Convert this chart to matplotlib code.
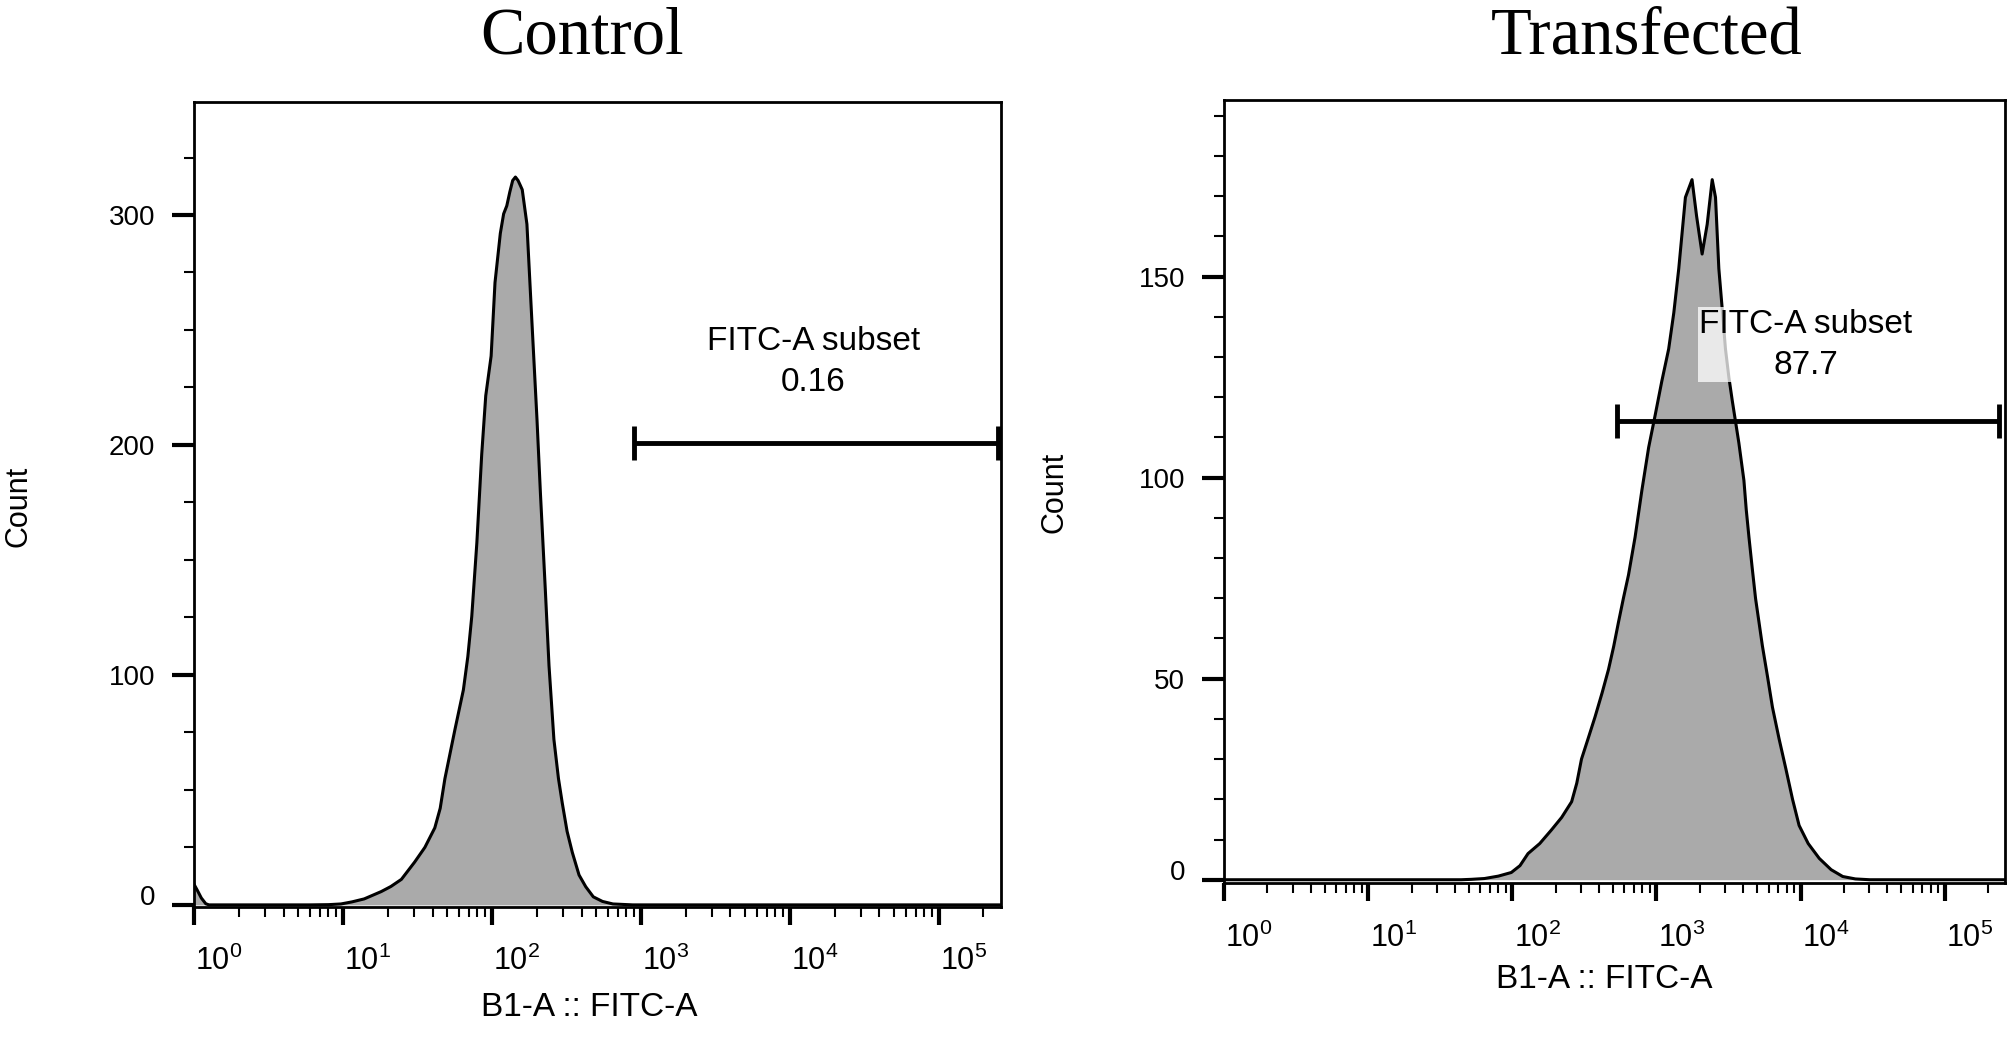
import numpy as np
import matplotlib
matplotlib.use('Agg')
import matplotlib.pyplot as plt
import matplotlib.transforms as mtrans
from matplotlib.ticker import MultipleLocator, LogLocator, NullFormatter

plt.rcParams['font.family'] = ['Liberation Sans', 'DejaVu Sans']
plt.rcParams['mathtext.fontset'] = 'custom'
plt.rcParams['mathtext.rm'] = 'Liberation Sans'

# Control histogram: FITC-A intensity vs count
ctrl_fitc = [1.0, 1.06, 1.12, 1.2, 1.26, 6.0, 8.0, 9.7, 11.5, 13.9, 18.1, 21, 24.7, 30.3,
             35.5, 41.4, 45, 48.4, 56.5, 64.4, 69, 73.3, 79.3, 85.5, 91.0, 98.9, 105, 114,
             120, 126, 132, 138, 144, 150, 155, 160, 172, 186, 201, 212, 229, 242, 261,
             280, 297, 320, 347, 385, 427, 480, 553, 650, 883, 262144]
ctrl_count = [9, 6, 3, 0.5, 0, 0, 0.1, 0.4, 1.3, 2.6, 5.8, 8, 11.1, 18.6,
              25, 33.5, 42, 54.9, 76.2, 93.5, 108, 125.4, 157.4, 195.9, 221.4, 238.7, 270.6, 292,
              300.5, 304, 310, 315, 316.5, 315, 313, 311, 296, 253, 211, 178.8, 136, 104, 72,
              55, 44.3, 32, 22.8, 13, 7.9, 3.5, 1.5, 0.4, 0, 0]

# Transfected histogram
trans_fitc = [1, 44.2, 52, 64.1, 80, 98.4, 113, 128.5, 155, 187, 220, 258, 280, 302, 335,
              375, 420, 465, 505, 545, 590, 640, 711, 793, 883, 982, 1090, 1216, 1320,
              1429, 1589, 1766, 1900, 2075, 2250, 2438, 2570, 2710, 2860, 3013, 3180,
              3357, 3733, 4046, 4200, 4385, 4620, 4875, 5150, 5433, 5900, 6383, 7100,
              7907, 8800, 9772, 11300, 13490, 16300, 19630, 24000, 30200, 262144]
trans_count = [0, 0, 0.1, 0.3, 0.9, 1.8, 3.5, 6.5, 9, 12.4, 15.5, 19.4, 24, 30, 35,
               40.5, 46.5, 52.3, 58, 64, 70, 75.8, 85.2, 96.9, 107.5, 115.7, 124, 132, 141,
               152, 169.7, 174.1, 165, 155.6, 163, 174.1, 169.7, 152, 142, 132, 125,
               119.2, 108.6, 99.3, 92, 85.2, 77.5, 69.9, 64, 58.2, 50.5, 42.9, 35,
               27.6, 20, 13.5, 9, 5.3, 2.5, 0.8, 0.2, 0, 0]

# gates: (start, end, height), label
ctrl_gate = (900, 250000, 201)
trans_gate = (531, 240000, 114)
ctrl_label = ('FITC-A subset', '0.16')
trans_label = ('FITC-A subset', '87.7')

xtick_vals = [1, 10, 100, 1000, 10000, 100000]
xtick_labels = [r'$\mathregular{10^{%d}}$' % i for i in range(6)]
ctrl_yticks = [0, 100, 200, 300]
trans_yticks = [0, 50, 100, 150]

fill_col = '#aaaaaa'

fig = plt.figure(figsize=(20.08, 10.63), dpi=100)
ax1 = fig.add_axes([0.0966, 0.1468, 0.4019, 0.7576])
ax2 = fig.add_axes([0.6096, 0.1690, 0.3889, 0.7369])


def style_panel(ax, ymax, yticks, yminor, ylab_xy, xlab_xy):
    ax.set_xscale('log')
    ax.set_xlim(1, 262144)
    ax.set_ylim(-0.9, ymax)
    ax.set_xticks(xtick_vals)
    ax.set_xticklabels(xtick_labels)
    ax.xaxis.set_minor_locator(LogLocator(base=10, subs=np.arange(2, 10), numticks=20))
    ax.xaxis.set_minor_formatter(NullFormatter())
    ax.set_yticks(yticks)
    ax.yaxis.set_minor_locator(MultipleLocator(yminor))
    for s in ax.spines.values():
        s.set_linewidth(2)
        s.set_zorder(5)
    ax.tick_params(axis='x', which='major', length=13, width=3, pad=15, labelsize=22)
    ax.tick_params(axis='x', which='minor', length=7, width=1.5)
    ax.tick_params(axis='y', which='major', length=16, width=3, pad=12, labelsize=20)
    ax.tick_params(axis='y', which='minor', length=7, width=1.5)
    ax.set_ylabel('Count', fontsize=22, va='center')
    ax.yaxis.set_label_coords(*ylab_xy)
    ax.set_xlabel('B1-A :: FITC-A', fontsize=24, va='center')
    ax.xaxis.set_label_coords(*xlab_xy)
    # FlowJo-like: decade labels sit to the right of their tick
    shift = mtrans.ScaledTranslation(0.25, 0, fig.dpi_scale_trans)
    for t in ax.xaxis.get_major_ticks():
        t.label1.set_transform(t.label1.get_transform() + shift)
    up = mtrans.ScaledTranslation(0, 0.10, fig.dpi_scale_trans)
    t0 = ax.yaxis.get_major_ticks()[0]
    t0.label1.set_transform(t0.label1.get_transform() + up)


def draw_hist(ax, x, y, gate, label, text_xy):
    ax.fill_between(x, y, 0, color=fill_col, lw=0, zorder=1)
    ax.plot(x, y, color='k', lw=2.2, zorder=2)
    ax.plot([gate[0], gate[1]], [gate[2], gate[2]], color='k', lw=3.5,
            marker='|', ms=25, mew=3.5, solid_capstyle='butt', zorder=4)
    ax.text(text_xy[0], text_xy[1], '\n'.join(label), ha='center', va='center',
            fontsize=24, linespacing=1.4, zorder=3,
            bbox=dict(boxstyle='square,pad=0.05', fc='white', ec='none', alpha=0.75))


draw_hist(ax1, ctrl_fitc, ctrl_count, ctrl_gate, ctrl_label, (14400, 236))
draw_hist(ax2, trans_fitc, trans_count, trans_gate, trans_label, (10890, 133))

style_panel(ax1, 349.3, ctrl_yticks, 25, (-0.218, 0.497), (0.4895, -0.1254))
style_panel(ax2, 193.9, trans_yticks, 10, (-0.2177, 0.4995), (0.4873, -0.1229))

fig.text(582.5 / 2008, 1 - 53 / 1063, 'Control', family='Liberation Serif',
         fontsize=48, ha='center', va='baseline')
fig.text(1647 / 2008, 1 - 53 / 1063, 'Transfected', family='Liberation Serif',
         fontsize=48, ha='center', va='baseline')

fig.savefig('out.png', dpi=100)
